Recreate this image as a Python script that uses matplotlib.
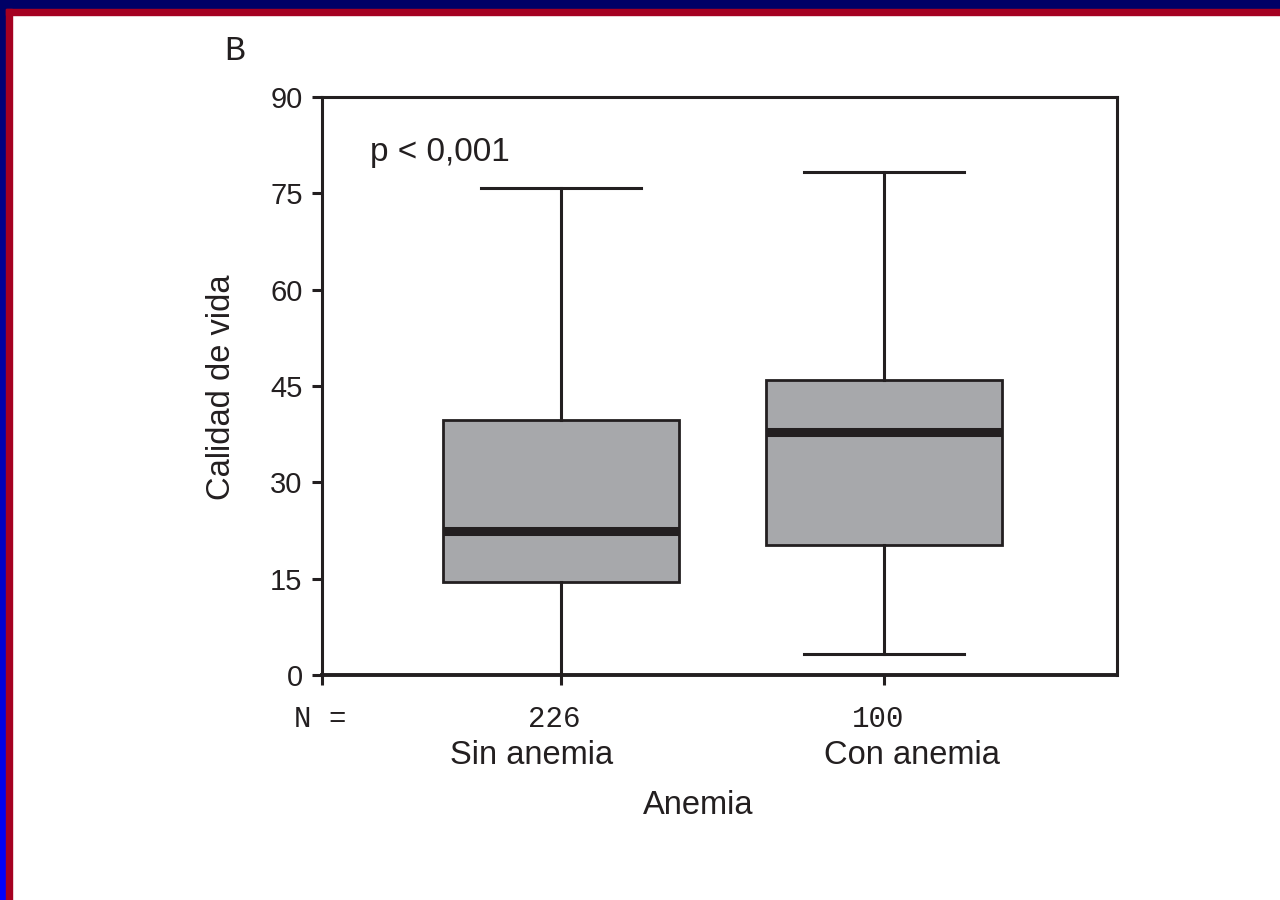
import numpy as np
import matplotlib
matplotlib.use('Agg')
import matplotlib.pyplot as plt
from matplotlib.patches import Rectangle
from matplotlib.colors import LinearSegmentedColormap
from matplotlib import transforms

# values
groups = ['Sin anemia', 'Con anemia']
n_values = ['226', '100']
whislo = [0.0, 3.3]
q1 = [14.5, 20.2]
median = [22.4, 37.8]
q3 = [39.7, 45.9]
whishi = [75.9, 78.3]
yticks = [0, 15, 30, 45, 60, 75, 90]

narrow = ['Liberation Sans Narrow', 'Liberation Sans', 'DejaVu Sans']
mono = ['Liberation Mono', 'DejaVu Sans Mono']
ink = '#231f20'

fig = plt.figure(figsize=(12.8, 9), dpi=100)
fig.patch.set_facecolor('white')

# frame of the slide: navy/blue band and red band on top and left
grad = fig.add_axes([0, 0, 6 / 1280, 1])
g = np.linspace(0, 1, 256).reshape(-1, 1)
cm = LinearSegmentedColormap.from_list('band', ['#0000ff', '#000066'])
grad.imshow(g, aspect='auto', cmap=cm, origin='lower', extent=[0, 1, 0, 1])
grad.set_axis_off()
fig.patches.append(Rectangle((0, 1 - 9 / 900), 1, 9 / 900, transform=fig.transFigure,
                             color='#000066', zorder=5))
fig.patches.append(Rectangle((6 / 1280, 1 - 15 / 900), 1, 6 / 900, transform=fig.transFigure,
                             color='#a50021', zorder=5))
fig.patches.append(Rectangle((6 / 1280, 0), 6 / 1280, 1 - 9 / 900, transform=fig.transFigure,
                             color='#a50021', zorder=5))

ax = fig.add_axes([322 / 1280, 1 - 675 / 900, (1117 - 322) / 1280, (675 - 97) / 900])

stats = []
for i in range(len(groups)):
    stats.append({'label': groups[i], 'whislo': whislo[i], 'q1': q1[i], 'med': median[i],
                  'q3': q3[i], 'whishi': whishi[i], 'fliers': []})

pos = [1, 2]
ax.bxp(stats, positions=pos, widths=0.73, patch_artist=True, showfliers=False,
       boxprops=dict(facecolor='#a7a8ab', edgecolor=ink, linewidth=2.0),
       medianprops=dict(color=ink, linewidth=6.5),
       whiskerprops=dict(color=ink, linewidth=2.2),
       capprops=dict(color=ink, linewidth=2.2),
       capwidths=0.495)

ax.set_xlim(0.26, 2.72)
ax.set_ylim(0, 90)
ax.set_yticks(yticks)
ax.set_yticklabels([str(v) for v in yticks], family=narrow, fontsize=21, color=ink)
ax.set_xticks([0.26] + pos)
ax.set_xticklabels(['', '', ''])
ax.tick_params(axis='both', direction='out', length=7, width=2.2, color=ink, pad=7)
for s in ax.spines.values():
    s.set_linewidth(2.2)
    s.set_color(ink)
ax.spines['bottom'].set_linewidth(2.8)

fig.text(370 / 1280, 1 - 152 / 900, 'p < 0,001', family=narrow, fontsize=24,
         color=ink, ha='left', va='center')

trans = transforms.blended_transform_factory(ax.transData, fig.transFigure)
label_shift = [-0.09, 0.085]
for i in range(len(groups)):
    ax.text(pos[i] - 0.02, 1 - 719 / 900, n_values[i], transform=trans, family=mono,
            fontsize=21, color=ink, ha='center', va='center')
    ax.text(pos[i] + label_shift[i], 1 - 756 / 900, groups[i], transform=trans, family=narrow,
            fontsize=23.5, color=ink, ha='center', va='center')

fig.text(320 / 1280, 1 - 719 / 900, 'N =', family=mono, fontsize=21, color=ink,
         ha='center', va='center')
fig.text(698 / 1280, 1 - 805 / 900, 'Anemia', family=narrow, fontsize=23.5, color=ink,
         ha='center', va='center')
fig.text(222 / 1280, 1 - 387 / 900, 'Calidad de vida', family=narrow, fontsize=23.5, color=ink,
         ha='center', va='center', rotation=90)
fig.text(235 / 1280, 1 - 50 / 900, 'B', family=mono, fontsize=25, color=ink,
         ha='center', va='center')

fig.savefig('out.png', dpi=100)
